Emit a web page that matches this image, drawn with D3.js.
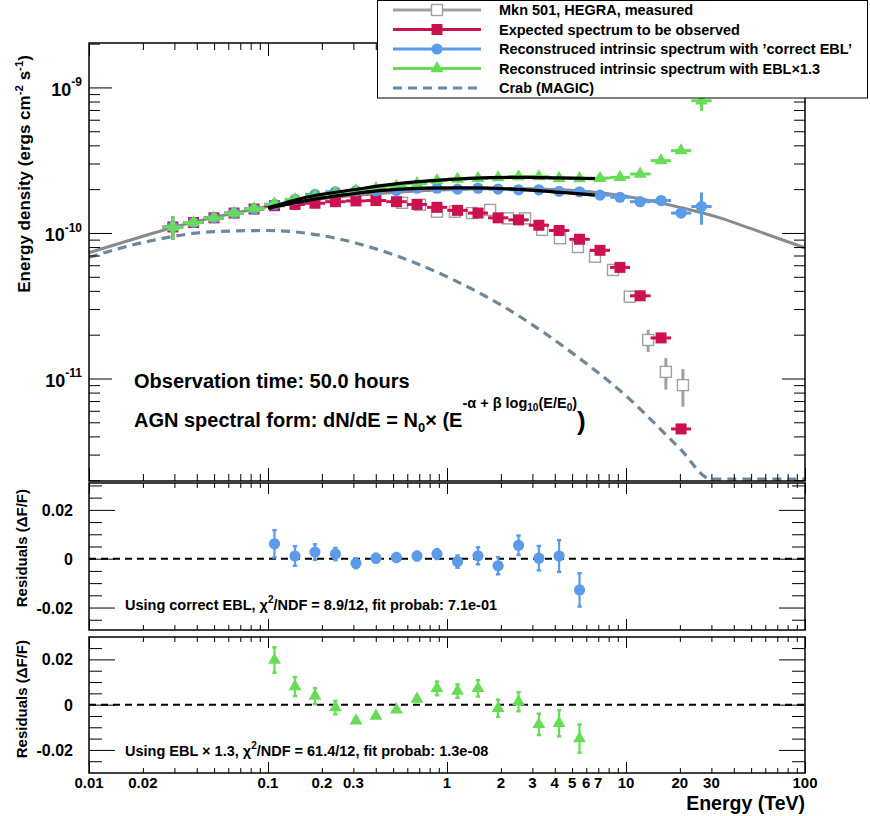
<!DOCTYPE html>
<html><head><meta charset="utf-8">
<script src="https://cdn.jsdelivr.net/npm/d3@7"></script>
<style>
body{margin:0;background:#fff}
svg{display:block}
text{font-family:"Liberation Sans",Arial,Helvetica,sans-serif;font-weight:bold;fill:#000}
</style>
</head><body>
<svg id="c" width="870" height="816"></svg>
<script>
// ---------------- data ----------------
const energies = [0.0294,0.0384,0.0499,0.0646,0.0836,0.1087,0.1415,0.183,0.238,0.310,0.401,0.522,0.680,0.879,1.145,1.49,1.93,2.51,3.26,4.23,5.50,7.16,9.25,12.0,15.7,20.3,26.4];

const expectedFlux = [1.10e-10,1.18e-10,1.27e-10,1.37e-10,1.46e-10,1.54e-10,1.57e-10,1.60e-10,1.64e-10,1.66e-10,1.67e-10,1.64e-10,1.57e-10,1.50e-10,1.43e-10,1.37e-10,1.27e-10,1.23e-10,1.13e-10,1.04e-10,0.905e-10,0.76e-10,0.58e-10,0.37e-10,0.19e-10,0.045e-10];
const expectedErr  = [0.2e-10,0.02e-10,0.02e-10,0.02e-10,0.02e-10,0.02e-10,0.02e-10,0.02e-10,0.02e-10,0.02e-10,0.02e-10,0.02e-10,0.02e-10,0.02e-10,0.02e-10,0.02e-10,0.02e-10,0.02e-10,0.02e-10,0.02e-10,0.02e-10,0.02e-10,0.02e-10,0.015e-10,0.01e-10,0.003e-10];

const correctEblFlux = [1.10e-10,1.18e-10,1.27e-10,1.37e-10,1.46e-10,1.57e-10,1.70e-10,1.84e-10,1.92e-10,1.95e-10,1.95e-10,1.96e-10,2.03e-10,2.03e-10,2.00e-10,2.03e-10,2.00e-10,1.98e-10,1.98e-10,1.93e-10,1.92e-10,1.82e-10,1.76e-10,1.64e-10,1.67e-10,1.37e-10,1.52e-10];
const correctEblErr  = [0.2e-10,0.02e-10,0.02e-10,0.02e-10,0.02e-10,0.02e-10,0.02e-10,0.02e-10,0.02e-10,0.02e-10,0.02e-10,0.02e-10,0.02e-10,0.02e-10,0.02e-10,0.02e-10,0.03e-10,0.03e-10,0.03e-10,0.03e-10,0.04e-10,0.04e-10,0.05e-10,0.05e-10,0.06e-10,0.08e-10,0.38e-10];

const ebl13Flux = [1.10e-10,1.18e-10,1.27e-10,1.37e-10,1.47e-10,1.58e-10,1.70e-10,1.80e-10,1.88e-10,1.95e-10,2.02e-10,2.10e-10,2.19e-10,2.30e-10,2.35e-10,2.38e-10,2.40e-10,2.44e-10,2.44e-10,2.38e-10,2.37e-10,2.38e-10,2.41e-10,2.54e-10,3.14e-10,3.68e-10,8.10e-10];
const ebl13Err  = [0.2e-10,0.02e-10,0.02e-10,0.02e-10,0.02e-10,0.02e-10,0.02e-10,0.02e-10,0.02e-10,0.02e-10,0.02e-10,0.02e-10,0.02e-10,0.02e-10,0.02e-10,0.02e-10,0.03e-10,0.03e-10,0.03e-10,0.03e-10,0.04e-10,0.04e-10,0.05e-10,0.06e-10,0.08e-10,0.12e-10,1.2e-10];

const hegraEnergies = [0.561,0.706,0.879,1.108,1.38,1.74,2.19,2.73,3.40,4.28,5.39,6.71,8.46,10.5,13.3,16.7,20.8];
const hegraFlux = [1.61e-10,1.56e-10,1.40e-10,1.40e-10,1.37e-10,1.44e-10,1.26e-10,1.26e-10,1.05e-10,0.92e-10,0.80e-10,0.687e-10,0.557e-10,0.365e-10,0.184e-10,0.111e-10,0.090e-10];
const hegraErr  = [0.02e-10,0.02e-10,0.02e-10,0.02e-10,0.02e-10,0.02e-10,0.02e-10,0.02e-10,0.02e-10,0.02e-10,0.02e-10,0.02e-10,0.02e-10,0.02e-10,0.032e-10,0.027e-10,0.026e-10];

const mkn501ModelE    = [0.01,0.02,0.03,0.05,0.1,0.2,0.5,1,2,4,7.2,12,20,33.5,50,100];
const mkn501ModelFlux = [0.732e-10,0.95e-10,1.10e-10,1.28e-10,1.52e-10,1.72e-10,1.90e-10,1.98e-10,2.02e-10,1.99e-10,1.89e-10,1.72e-10,1.50e-10,1.27e-10,1.07e-10,0.79e-10];

const crabE    = [0.01,0.02,0.05,0.1,0.2,0.5,1,2,5,10,20,30,50,100];
const crabFlux = [0.68e-10,0.86e-10,1.02e-10,1.04e-10,0.96e-10,0.71e-10,0.50e-10,0.32e-10,0.15e-10,0.076e-10,0.033e-10,0.0195e-10,0.0095e-10,0.003e-10];

const fitE            = [0.1,0.172,0.3,0.546,1.34,2.9,6.7];
const correctFitFlux  = [1.48e-10,1.69e-10,1.86e-10,2.00e-10,2.04e-10,1.97e-10,1.82e-10];
const ebl13FitFlux    = [1.49e-10,1.78e-10,1.98e-10,2.19e-10,2.37e-10,2.41e-10,2.36e-10];

const residualE = [0.1087,0.1415,0.183,0.238,0.310,0.401,0.522,0.680,0.879,1.145,1.49,1.93,2.51,3.26,4.23,5.50];
const correctRes    = [0.0061,0.0011,0.0027,0.0019,-0.0019,0.0002,0.0005,0.0011,0.0019,-0.0012,0.0012,-0.0029,0.0055,0.0002,0.0011,-0.0128];
const correctResErr = [0.0056,0.0040,0.0032,0.0025,0.0020,0.0018,0.0018,0.0018,0.0020,0.0025,0.0035,0.0035,0.0040,0.0050,0.0065,0.0068];
const ebl13Res    = [0.0197,0.0080,0.0038,-0.0013,-0.0071,-0.0050,-0.0023,0.0025,0.0072,0.0060,0.0072,-0.0016,0.0013,-0.0087,-0.0082,-0.0150];
const ebl13ResErr = [0.0056,0.0042,0.0035,0.0030,0.0008,0.0008,0.0008,0.0010,0.0030,0.0030,0.0036,0.0038,0.0042,0.0047,0.0058,0.0062];

const xLabelValues = [0.01,0.02,0.1,0.2,0.3,1,2,3,4,5,6,7,10,20,30,100];
const yMainLabelExp = [-9,-10,-11];
const resLabelValues = [0.02,0,-0.02];

const legendLabels = ["Mkn 501, HEGRA, measured","Expected spectrum to be observed","Reconstruced intrinsic spectrum with \u2019correct EBL\u2019","Reconstruced intrinsic spectrum with EBL\u00d71.3","Crab (MAGIC)"];

// ---------------- styles ----------------
const C_RED = "#cc1152", C_BLUE = "#5b9be8", C_GREEN = "#66dd55", C_GRAY = "#8a8a8a", C_HEGRA = "#a0a0a0", C_CRAB = "#6e879b";

// ---------------- layout / scales ----------------
const X0 = 89, X1 = 805;
const M_TOP = 43, M_BOT = 481;
const R1_TOP = 483, R1_BOT = 630;
const R2_TOP = 637, R2_BOT = 773;

const x = d3.scaleLog().domain([0.01, 100]).range([X0, X1]);
const yMain = d3.scaleLog().domain([1.975e-12, 2.02e-9]).range([M_BOT, M_TOP]).clamp(true);
const yR1 = d3.scaleLinear().domain([-0.0292, 0.031]).range([R1_BOT, R1_TOP]);
const yR2 = d3.scaleLinear().domain([-0.0302, 0.0299]).range([R2_BOT, R2_TOP]);

const svg = d3.select("#c");
svg.append("rect").attr("width",870).attr("height",816).attr("fill","#fff");

const defs = svg.append("defs");
defs.append("clipPath").attr("id","clipMain").append("rect").attr("x",X0).attr("y",M_TOP).attr("width",X1-X0).attr("height",M_BOT-M_TOP);
defs.append("clipPath").attr("id","clipR1").append("rect").attr("x",X0).attr("y",R1_TOP).attr("width",X1-X0).attr("height",R1_BOT-R1_TOP);
defs.append("clipPath").attr("id","clipR2").append("rect").attr("x",X0).attr("y",R2_TOP).attr("width",X1-X0).attr("height",R2_BOT-R2_TOP);

const isDecade = v => Math.abs(Math.log10(v) - Math.round(Math.log10(v))) < 1e-6;
const xAll = x.ticks();
const xMajor = xAll.filter(isDecade), xMinor = xAll.filter(v => !isDecade(v));
const yAll = yMain.ticks();
const yMajor = yAll.filter(isDecade), yMinor = yAll.filter(v => !isDecade(v));

function cleanAxis(g){ g.select(".domain").remove(); g.selectAll("text").remove(); g.selectAll("line").attr("stroke","#000").attr("stroke-width",1); }

function xTicks(yTop, yBot, majL, minL){
  const g = svg.append("g");
  g.append("g").attr("transform",`translate(0,${yBot})`).call(d3.axisBottom(x).tickValues(xMajor).tickSize(-majL).tickFormat("")).call(cleanAxis);
  g.append("g").attr("transform",`translate(0,${yBot})`).call(d3.axisBottom(x).tickValues(xMinor).tickSize(-minL).tickFormat("")).call(cleanAxis);
  g.append("g").attr("transform",`translate(0,${yTop})`).call(d3.axisTop(x).tickValues(xMajor).tickSize(-majL).tickFormat("")).call(cleanAxis);
  g.append("g").attr("transform",`translate(0,${yTop})`).call(d3.axisTop(x).tickValues(xMinor).tickSize(-minL).tickFormat("")).call(cleanAxis);
}
function yTicks(scale, major, minor, majL, minL){
  const g = svg.append("g");
  g.append("g").attr("transform",`translate(${X0},0)`).call(d3.axisLeft(scale).tickValues(major).tickSize(-majL).tickFormat("")).call(cleanAxis);
  g.append("g").attr("transform",`translate(${X0},0)`).call(d3.axisLeft(scale).tickValues(minor).tickSize(-minL).tickFormat("")).call(cleanAxis);
  g.append("g").attr("transform",`translate(${X1},0)`).call(d3.axisRight(scale).tickValues(major).tickSize(-majL).tickFormat("")).call(cleanAxis);
  g.append("g").attr("transform",`translate(${X1},0)`).call(d3.axisRight(scale).tickValues(minor).tickSize(-minL).tickFormat("")).call(cleanAxis);
}

// ---------------- main panel ----------------
const main = svg.append("g").attr("clip-path","url(#clipMain)");
const lineMain = d3.line().x(d => x(d[0])).y(d => yMain(d[1])).curve(d3.curveMonotoneX);
// crab is drawn slightly above the frame where it reaches the lower edge of the range
const lineCrab = d3.line().x(d => x(d[0])).y(d => Math.min(yMain(d[1]), M_BOT - 1.8)).curve(d3.curveMonotoneX);

main.append("path").datum(d3.zip(mkn501ModelE, mkn501ModelFlux)).attr("d", lineMain)
  .attr("fill","none").attr("stroke",C_GRAY).attr("stroke-width",3);
main.append("path").datum(d3.zip(crabE, crabFlux)).attr("d", lineCrab)
  .attr("fill","none").attr("stroke",C_CRAB).attr("stroke-width",3.2).attr("stroke-dasharray","9,6");

function halfBin(i, arr){
  const xi = x(arr[i]);
  const xn = i < arr.length-1 ? x(arr[i+1]) : xi + (xi - x(arr[i-1]));
  const xp = i > 0 ? x(arr[i-1]) : xi - (xn - xi);
  return [(xi-xp)/2, (xn-xi)/2];
}

function drawMarker(g, marker, cx, cy, color){
  if (marker === "square") g.append("rect").attr("x",cx-5.5).attr("y",cy-5.5).attr("width",11).attr("height",11).attr("fill",color);
  else if (marker === "circle") g.append("circle").attr("cx",cx).attr("cy",cy).attr("r",5.6).attr("fill",color);
  else if (marker === "triangle") g.append("path").attr("d", d3.symbol(d3.symbolTriangle).size(72)()).attr("transform",`translate(${cx},${cy})`).attr("fill",color);
  else if (marker === "open") g.append("rect").attr("x",cx-5.5).attr("y",cy-5.5).attr("width",11).attr("height",11).attr("fill","#fff").attr("stroke",C_HEGRA).attr("stroke-width",1.4);
}

// HEGRA measured: open squares with vertical errors
const hg = main.append("g");
hegraEnergies.forEach((e,i) => {
  const cx = x(e), cy = yMain(hegraFlux[i]);
  hg.append("line").attr("x1",cx).attr("x2",cx).attr("y1",yMain(hegraFlux[i]+hegraErr[i])).attr("y2",yMain(Math.max(hegraFlux[i]-hegraErr[i],1e-13)))
    .attr("stroke",C_HEGRA).attr("stroke-width",3);
  drawMarker(hg, "open", cx, cy, C_HEGRA);
});

function drawSeries(g, es, vals, errs, color, marker){
  es.forEach((e,i) => {
    if (i >= vals.length) return;
    const cx = x(e), cy = yMain(vals[i]);
    const [hl, hr] = halfBin(i, es);
    g.append("line").attr("x1",cx-hl).attr("x2",cx+hr).attr("y1",cy).attr("y2",cy).attr("stroke",color).attr("stroke-width",3);
    g.append("line").attr("x1",cx).attr("x2",cx).attr("y1",yMain(vals[i]+errs[i])).attr("y2",yMain(vals[i]-errs[i])).attr("stroke",color).attr("stroke-width",3);
    drawMarker(g, marker, cx, cy, color);
  });
}

drawSeries(main.append("g"), energies.slice(0, expectedFlux.length), expectedFlux, expectedErr, C_RED, "square");
drawSeries(main.append("g"), energies, correctEblFlux, correctEblErr, C_BLUE, "circle");
drawSeries(main.append("g"), energies, ebl13Flux, ebl13Err, C_GREEN, "triangle");

const fitLine = d3.line().x(d => x(d[0])).y(d => yMain(d[1])).curve(d3.curveNatural);
main.append("path").datum(d3.zip(fitE, correctFitFlux)).attr("d", fitLine).attr("fill","none").attr("stroke","#000").attr("stroke-width",3.2);
main.append("path").datum(d3.zip(fitE, ebl13FitFlux)).attr("d", fitLine).attr("fill","none").attr("stroke","#000").attr("stroke-width",3.2);

// main texts
svg.append("text").attr("x",134).attr("y",388).attr("font-size",20).text("Observation time: 50.0 hours");
const agn = svg.append("text").attr("x",134).attr("y",427).attr("font-size",20);
agn.append("tspan").text("AGN spectral form: dN/dE = N");
agn.append("tspan").attr("font-size",13).attr("dy",5).text("0");
agn.append("tspan").attr("dy",-5).text("\u00d7 (E");
agn.append("tspan").attr("font-size",14.5).attr("dy",-19).text("-\u03b1 + \u03b2 log");
agn.append("tspan").attr("font-size",10).attr("dy",3).text("10");
agn.append("tspan").attr("font-size",14.5).attr("dy",-3).text("(E/E");
agn.append("tspan").attr("font-size",10).attr("dy",3).text("0");
agn.append("tspan").attr("font-size",14.5).attr("dy",-3).text(")");
agn.append("tspan").attr("font-size",26).attr("dy",22).text(")");

// main axes
xTicks(M_TOP, M_BOT, 13, 7);
yTicks(yMain, yMajor, yMinor, 23, 11);
svg.append("rect").attr("x",X0).attr("y",M_TOP).attr("width",X1-X0).attr("height",M_BOT-M_TOP).attr("fill","none").attr("stroke","#000").attr("stroke-width",1.5);

yMainLabelExp.forEach(p => {
  const ty = yMain(Math.pow(10,p));
  const t = svg.append("text").attr("x",82).attr("y",ty+8.5).attr("text-anchor","end").attr("font-size",18);
  t.append("tspan").text("10");
  t.append("tspan").attr("font-size",12).attr("dy",-9.5).text(String(p));
});

const ylab = svg.append("text").attr("transform",`translate(30,55) rotate(-90)`).attr("text-anchor","end").attr("font-size",17);
ylab.append("tspan").text("Energy density (ergs cm");
ylab.append("tspan").attr("font-size",11.5).attr("dy",-7).text("-2");
ylab.append("tspan").attr("dy",7).text(" s");
ylab.append("tspan").attr("font-size",11.5).attr("dy",-7).text("-1");
ylab.append("tspan").attr("dy",7).text(")");

// ---------------- residual panels ----------------
function residPanel(yS, top, bot, clip, vals, errs, color, marker, labelEnd, text1, text2, textY){
  const g = svg.append("g").attr("clip-path",`url(#${clip})`);
  g.append("line").attr("x1",X0).attr("x2",X1).attr("y1",yS(0)).attr("y2",yS(0)).attr("stroke","#000").attr("stroke-width",2).attr("stroke-dasharray","7,5");
  residualE.forEach((e,i) => {
    const cx = x(e);
    const y1 = yS(vals[i]+errs[i]), y2 = yS(vals[i]-errs[i]);
    g.append("line").attr("x1",cx).attr("x2",cx).attr("y1",y1).attr("y2",y2).attr("stroke",color).attr("stroke-width",2.2);
    [y1,y2].forEach(yy => g.append("line").attr("x1",cx-2.2).attr("x2",cx+2.2).attr("y1",yy).attr("y2",yy).attr("stroke",color).attr("stroke-width",2.5));
    drawMarker(g, marker, cx, yS(vals[i]), color);
  });
  xTicks(top, bot, 11, 5);
  const majors = [-0.02,0,0.02];
  const minors = d3.range(-0.025,0.0301,0.005).filter(v => !majors.some(m => Math.abs(m-v)<1e-6) && v>yS.domain()[0] && v<yS.domain()[1]);
  yTicks(yS, majors, minors, 26, 13);
  svg.append("rect").attr("x",X0).attr("y",top).attr("width",X1-X0).attr("height",bot-top).attr("fill","none").attr("stroke","#000").attr("stroke-width",1.5);
  resLabelValues.forEach(v => {
    svg.append("text").attr("x",73).attr("y",yS(v)+6).attr("text-anchor","end").attr("font-size",16).text(v===0?"0":String(v));
  });
  svg.append("text").attr("transform",`translate(27,${labelEnd}) rotate(-90)`).attr("text-anchor","end").attr("font-size",15).text("Residuals (\u0394F/F)");
  const t = svg.append("text").attr("x",125).attr("y",textY).attr("font-size",14.5);
  t.append("tspan").text(text1);
  t.append("tspan").attr("font-size",10).attr("dy",-7).text("2");
  t.append("tspan").attr("dy",7).text(text2);
}
residPanel(yR1, R1_TOP, R1_BOT, "clipR1", correctRes, correctResErr, C_BLUE, "circle", 489,
  "Using correct EBL, \u03c7", "/NDF = 8.9/12, fit probab: 7.1e-01", 610);
residPanel(yR2, R2_TOP, R2_BOT, "clipR2", ebl13Res, ebl13ResErr, C_GREEN, "triangle", 640,
  "Using EBL \u00d7 1.3, \u03c7", "/NDF = 61.4/12, fit probab: 1.3e-08", 756);

// x labels
xLabelValues.forEach(v => {
  svg.append("text").attr("x",x(v)).attr("y",788).attr("text-anchor","middle").attr("font-size",15).text(String(v));
});
svg.append("text").attr("x",X1).attr("y",810).attr("text-anchor","end").attr("font-size",19.5).text("Energy (TeV)");

// ---------------- legend ----------------
const lg = svg.append("g");
lg.append("rect").attr("x",377.5).attr("y",0.5).attr("width",490).attr("height",97.5).attr("fill","#fff").attr("stroke","#000").attr("stroke-width",1);
const legendStyles = [
  {color:C_HEGRA, marker:"open", dash:null},
  {color:C_RED, marker:"square", dash:null},
  {color:C_BLUE, marker:"circle", dash:null},
  {color:C_GREEN, marker:"triangle", dash:null},
  {color:C_CRAB, marker:null, dash:"9,6"}
];
legendLabels.forEach((lab,i) => {
  const yy = 10 + i*19.5;
  const st = legendStyles[i];
  const ln = lg.append("line").attr("x1",393).attr("x2",481).attr("y1",yy).attr("y2",yy).attr("stroke",st.color).attr("stroke-width",3);
  if (st.dash) ln.attr("stroke-dasharray",st.dash);
  if (st.marker) drawMarker(lg, st.marker, 437, yy, st.color);
  lg.append("text").attr("x",499).attr("y",yy+5).attr("font-size",14.5).text(lab);
});
</script>
</body></html>
